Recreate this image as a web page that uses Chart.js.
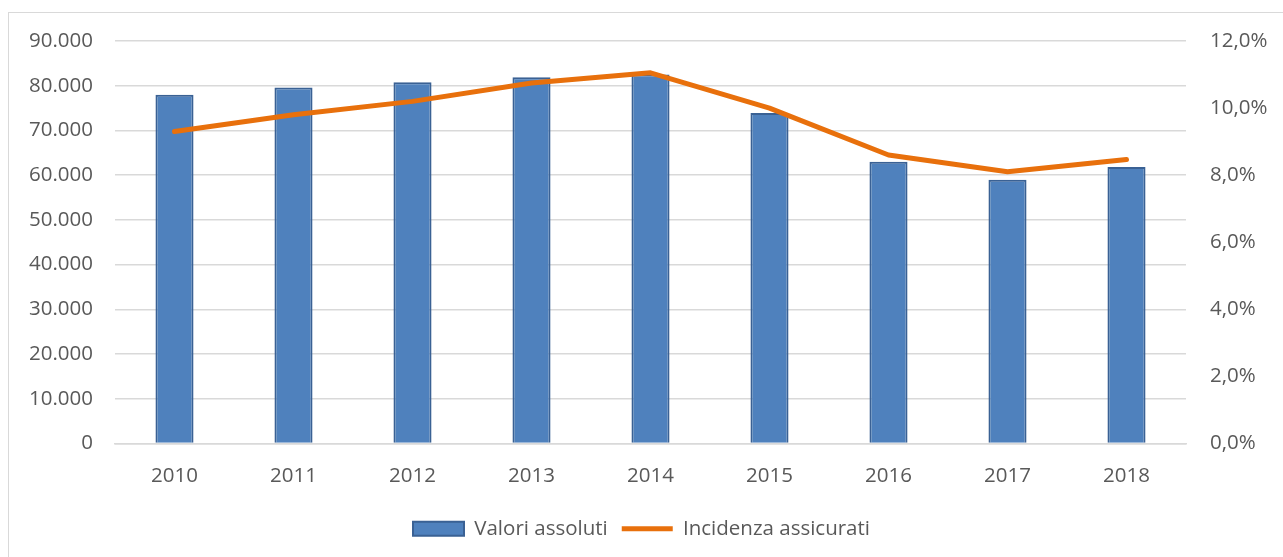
<!DOCTYPE html>
<html>
<head>
<meta charset="utf-8">
<script src="https://cdn.jsdelivr.net/npm/chart.js@4/dist/chart.umd.min.js"></script>
<style>
  html, body { margin: 0; padding: 0; background: #fff; overflow: hidden; }
  #frame { position: absolute; left: 8px; top: 12px; width: 1400px; height: 700px; border: 1px solid #d9d9d9; }
  #wrap { position: absolute; left: 0; top: 0; width: 1283px; height: 557px; }
</style>
</head>
<body>
<div id="frame"></div>
<div id="wrap"><canvas id="c" width="1283" height="557"></canvas></div>
<script>
const anni = ['2010', '2011', '2012', '2013', '2014', '2015', '2016', '2017', '2018'];
const valoriAssoluti = [78000, 79600, 80800, 81900, 82500, 73900, 63000, 59000, 61800];
const incidenzaAssicurati = [9.3, 9.8, 10.2, 10.75, 11.05, 10.0, 8.6, 8.1, 8.47];

const FONT = { family: "'Open Sans', 'Liberation Sans', sans-serif", size: 20.5 };
const TEXT = '#595959';
const GRID = '#d9d9d9';

function formatMigliaia(v) {
  return String(Math.round(v)).replace(/\B(?=(\d{3})+(?!\d))/g, '.');
}

new Chart(document.getElementById('c'), {
  data: {
    labels: anni,
    datasets: [
      {
        type: 'line',
        label: 'Incidenza assicurati',
        data: incidenzaAssicurati,
        yAxisID: 'y2',
        borderColor: '#e8700c',
        backgroundColor: '#e8700c',
        borderWidth: 5,
        pointRadius: 0,
        pointHoverRadius: 0,
        pointBorderWidth: 5,
        pointStyle: 'line',
        tension: 0,
        borderCapStyle: 'round',
        borderJoinStyle: 'round',
        order: 0
      },
      {
        type: 'bar',
        label: 'Valori assoluti',
        data: valoriAssoluti,
        yAxisID: 'y',
        backgroundColor: '#4f81bd',
        borderColor: '#3a6194',
        borderWidth: 2,
        pointStyle: 'rect',
        categoryPercentage: 1,
        barPercentage: 0.32,
        order: 1
      }
    ]
  },
  options: {
    responsive: false,
    animation: false,
    layout: { padding: { top: 41, bottom: 8, left: 0, right: 0 } },
    plugins: {
      tooltip: { enabled: false },
      legend: {
        position: 'bottom',
        reverse: true,
        labels: {
          usePointStyle: true,
          pointStyleWidth: 51,
          boxHeight: 14,
          color: TEXT,
          font: FONT,
          padding: 14
        }
      }
    },
    scales: {
      x: {
        grid: { display: false, drawTicks: false },
        border: { display: true, color: GRID, width: 1.5 },
        ticks: { color: TEXT, font: FONT, padding: 20 },
        afterFit(s) { s.height = 61; }
      },
      y: {
        position: 'left',
        min: 0,
        max: 90000,
        ticks: { stepSize: 10000, color: TEXT, font: FONT, padding: 22, callback: v => formatMigliaia(v) },
        grid: { color: GRID, lineWidth: 1.5, drawTicks: false },
        border: { display: false },
        afterFit(s) { s.width = 115; }
      },
      y2: {
        position: 'right',
        min: 0,
        max: 12,
        ticks: { stepSize: 2, color: TEXT, font: FONT, padding: 24, callback: v => v.toFixed(1).replace('.', ',') + '%' },
        grid: { display: false, drawTicks: false },
        border: { display: false },
        afterFit(s) { s.width = 97; }
      }
    }
  }
});
</script>
</body>
</html>
